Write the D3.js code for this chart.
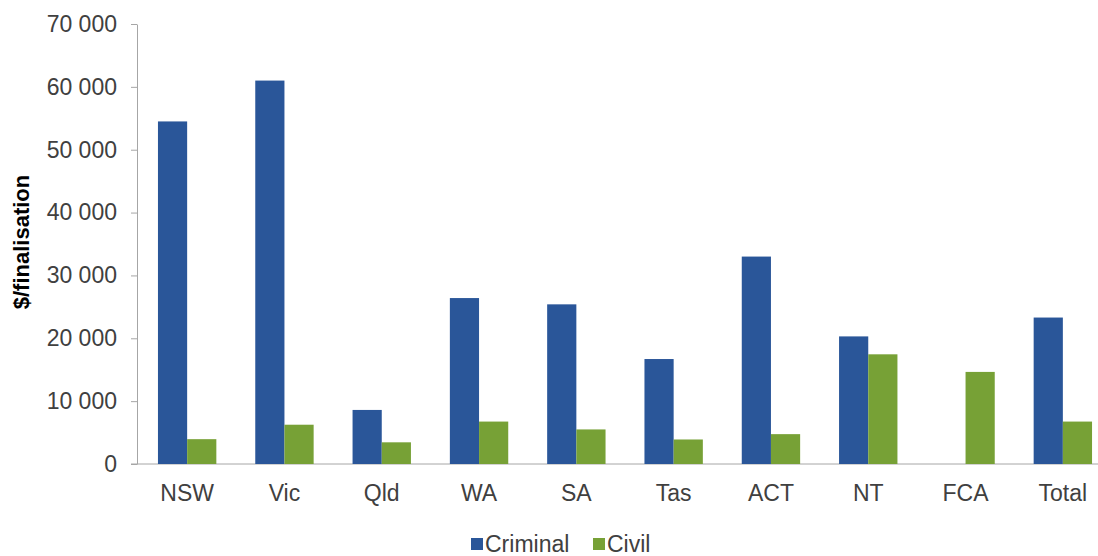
<!DOCTYPE html>
<html>
<head>
<meta charset="utf-8">
<script src="https://cdn.jsdelivr.net/npm/d3@7"></script>
<style>
  html, body { margin: 0; padding: 0; background: #fff; }
  #chart svg { display: block; }
  .axis text { font-family: "Liberation Sans", Arial, sans-serif; font-size: 23px; fill: #404040; }
  .legend text { font-family: "Liberation Sans", Arial, sans-serif; font-size: 23px; fill: #404040; }
</style>
</head>
<body>
<div id="chart"></div>
<script>
const categories = ['NSW', 'Vic', 'Qld', 'WA', 'SA', 'Tas', 'ACT', 'NT', 'FCA', 'Total'];
const criminal = [54500, 61000, 8600, 26400, 25400, 16700, 33000, 20300, null, 23300];
const civil = [3950, 6250, 3450, 6750, 5500, 3900, 4750, 17450, 14650, 6750];
const seriesNames = ['Criminal', 'Civil'];
const yTicks = [0, 10000, 20000, 30000, 40000, 50000, 60000, 70000];

const colors = { Criminal: '#2a5699', Civil: '#77a136' };
const width = 1098, height = 556;

const svg = d3.select('#chart').append('svg')
    .attr('width', width)
    .attr('height', height);

const x0 = d3.scaleBand()
    .domain(categories)
    .range([138.5, 1111.5])
    .paddingInner(0.4)
    .paddingOuter(0.2);

const x1 = d3.scaleBand()
    .domain(seriesNames)
    .range([0, x0.bandwidth()]);

const y = d3.scaleLinear()
    .domain([0, 70000])
    .range([464, 24]);

const fmt = d3.formatLocale({ decimal: '.', thousands: ' ', grouping: [3], currency: ['$', ''] }).format(',');

// y axis
const yAxis = d3.axisLeft(y)
    .tickValues(yTicks)
    .tickFormat(fmt)
    .tickSize(6)
    .tickSizeOuter(0)
    .tickPadding(14);

const yG = svg.append('g')
    .attr('class', 'axis y-axis')
    .attr('transform', 'translate(137,0)')
    .call(yAxis);
yG.selectAll('line, path').attr('stroke', '#a6a6a6');

// baseline
svg.append('line')
    .attr('x1', 131)
    .attr('x2', width)
    .attr('y1', y(0))
    .attr('y2', y(0))
    .attr('stroke', '#a6a6a6');

// bars
const rows = categories.map((c, i) => ({ cat: c, values: [
    { key: 'Criminal', value: criminal[i] },
    { key: 'Civil', value: civil[i] }
] }));

const groups = svg.append('g').selectAll('g')
    .data(rows)
    .enter()
    .append('g')
    .attr('transform', d => `translate(${x0(d.cat)},0)`);

groups.selectAll('rect')
    .data(d => d.values.filter(v => v.value != null))
    .enter()
    .append('rect')
    .attr('x', d => x1(d.key))
    .attr('y', d => y(d.value))
    .attr('width', x1.bandwidth())
    .attr('height', d => y(0) - y(d.value))
    .attr('fill', d => colors[d.key]);

// x axis labels
const xAxis = d3.axisBottom(x0)
    .tickSize(0)
    .tickPadding(20.5);

const xG = svg.append('g')
    .attr('class', 'axis x-axis')
    .attr('transform', `translate(0,${y(0)})`)
    .call(xAxis);
xG.select('.domain').remove();

// y axis title
svg.append('text')
    .attr('transform', 'rotate(-90)')
    .attr('x', -242)
    .attr('y', 29)
    .attr('text-anchor', 'middle')
    .style('font-family', '"Liberation Sans", Arial, sans-serif')
    .style('font-size', '22px')
    .style('font-weight', 'bold')
    .style('fill', '#000')
    .text('$/finalisation');

// legend
const legend = svg.append('g').attr('class', 'legend');
const legendItems = [
    { key: 'Criminal', x: 471 },
    { key: 'Civil', x: 593 }
];
legend.selectAll('rect')
    .data(legendItems)
    .enter()
    .append('rect')
    .attr('x', d => d.x)
    .attr('y', 538)
    .attr('width', 12)
    .attr('height', 12)
    .attr('fill', d => colors[d.key]);
legend.selectAll('text')
    .data(legendItems)
    .enter()
    .append('text')
    .attr('x', d => d.x + 14)
    .attr('y', 552)
    .text(d => d.key);
</script>
</body>
</html>
